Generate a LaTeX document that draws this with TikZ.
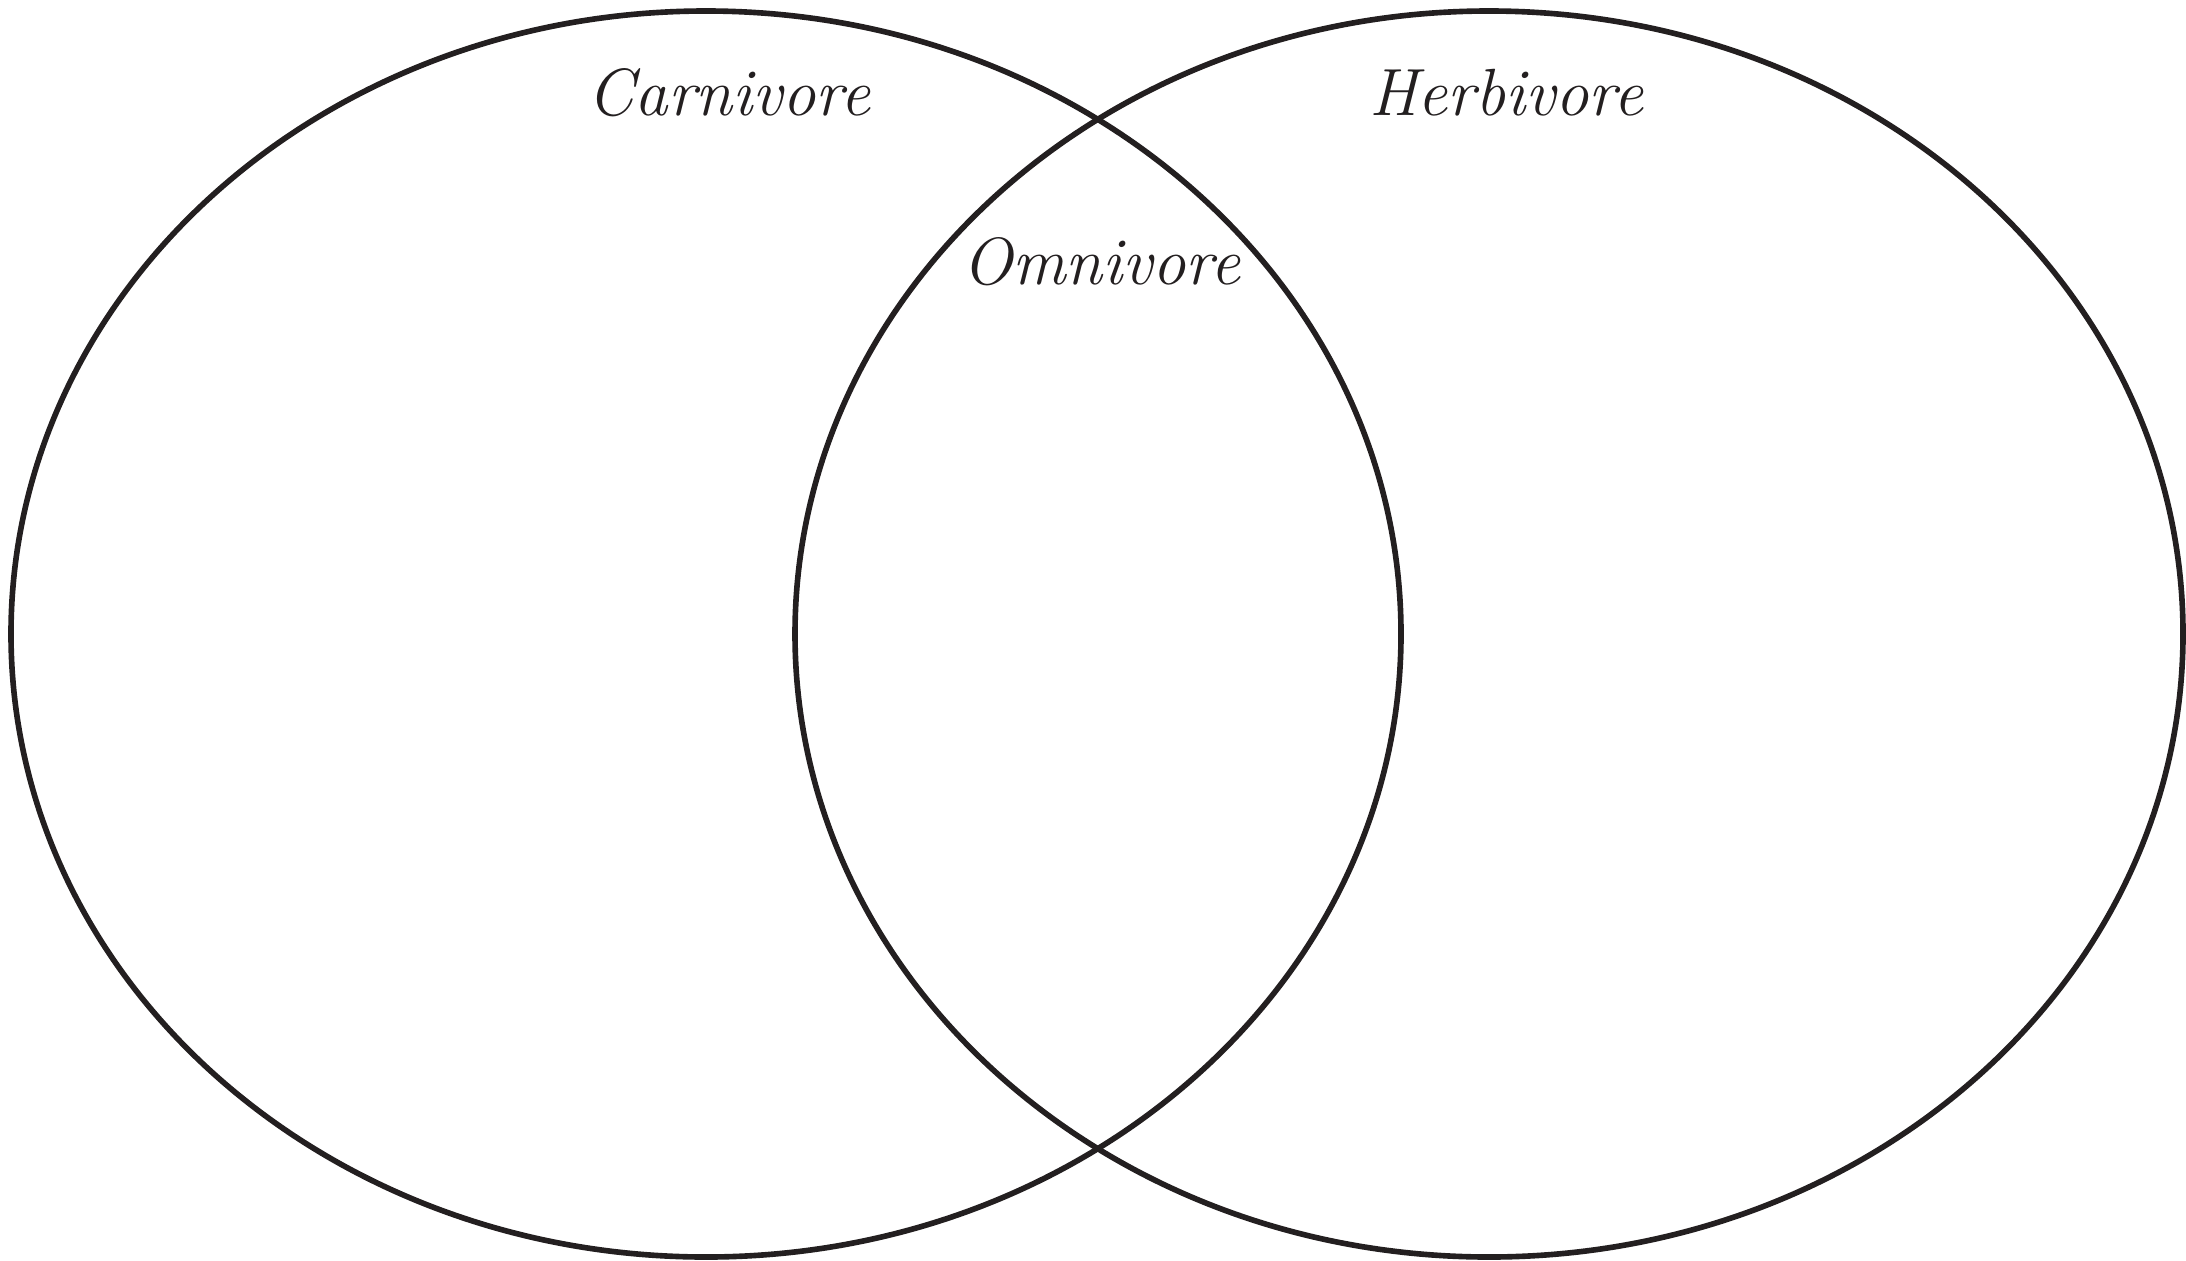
\documentclass[tikz,border=0pt]{standalone}
\usepackage{tikz}
\usetikzlibrary{shapes.geometric}
\definecolor{inkgray}{HTML}{231F20}
\tikzset{setbox/.style={draw=inkgray,ellipse,line width=1.6pt,inner sep=0pt,minimum width=13.9cm,minimum height=12.46cm},
  setlabel/.style={text=inkgray,font=\fontsize{19}{23}\selectfont\itshape}}
\begin{document}
\begin{tikzpicture}
\useasboundingbox (0,0) rectangle (21.86,12.6);
\node[setbox] (carn) at (7.06,6.26) {};
\node[setbox,minimum width=13.88cm] (herb) at (14.89,6.26) {};
\node[setlabel] (carnlbl) at (7.29,11.67) {Carnivore};
\node[setlabel] (herblbl) at (15.06,11.67) {Herbivore};
\node[setlabel] (omnilbl) at (11.01,9.98) {Omnivore};
\end{tikzpicture}
\end{document}
